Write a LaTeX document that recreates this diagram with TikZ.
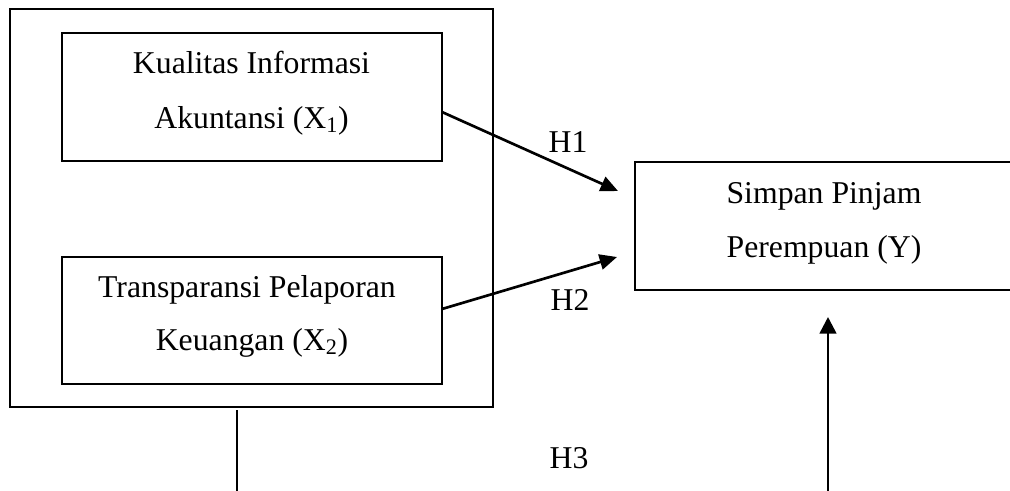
\documentclass[tikz,border=0pt]{standalone}
\usepackage{fontspec}
\setmainfont{Liberation Serif}
\usetikzlibrary{arrows.meta,calc}
\begin{document}
\begin{tikzpicture}[x=0.75pt,y=-0.75pt,
  boxed/.style={draw,line width=1.5pt,inner sep=0pt,outer sep=0pt},
  txt/.style={inner sep=0pt,outer sep=0pt,anchor=base,font=\fontsize{23.8}{40}\selectfont},
  harrow/.style={line width=2pt,-{Triangle[length=13pt,width=11.5pt]}},
  plain/.style={line width=1.5pt}]
\useasboundingbox (0,0) rectangle (1010,490);
\clip (0,0) rectangle (1010,490);
% boxes
\node[boxed,minimum width=362.25pt,minimum height=298.5pt] (outer) at (251.5,208) {};
\node[boxed,minimum width=285pt,minimum height=96pt] (b1) at (252,97) {};
\node[boxed,minimum width=285pt,minimum height=95.25pt] (b2) at (252,320.5) {};
\node[boxed,minimum width=283.5pt,minimum height=96pt] (y) at (824,226) {};
% texts
\node[txt] (t1a) at (251.5,73) {Kualitas Informasi};
\node[txt] (t1b) at (251.5,128) {Akuntansi (X\textsubscript{1})};
\node[txt] (t2a) at (247,297) {Transparansi Pelaporan};
\node[txt] (t2b) at (252,350) {Keuangan (X\textsubscript{2})};
\node[txt] (tya) at (824,203) {Simpan Pinjam};
\node[txt] (tyb) at (824,257) {Perempuan (Y)};
\node[txt] (h1) at (568,152) {H1};
\node[txt] (h2) at (570,310) {H2};
\node[txt] (h3) at (569,468) {H3};
% connectors
\draw[harrow] ($(b1.east)+(0,15)$) -- ($(y.west)+(-17,-35)$);
\draw[harrow] ($(b2.east)+(0,-11.5)$) -- ($(y.west)+(-18,31)$);
\coordinate (vend) at (237,492);
\draw[plain] ($(outer.south)+(-14.5,3)$) -- (vend);
\coordinate (uend) at (828,492);
\draw[line width=2pt,-{Triangle[length=12.5pt,width=12.5pt]}] (uend) -- ($(y.south)+(4,27)$);
\end{tikzpicture}
\end{document}
